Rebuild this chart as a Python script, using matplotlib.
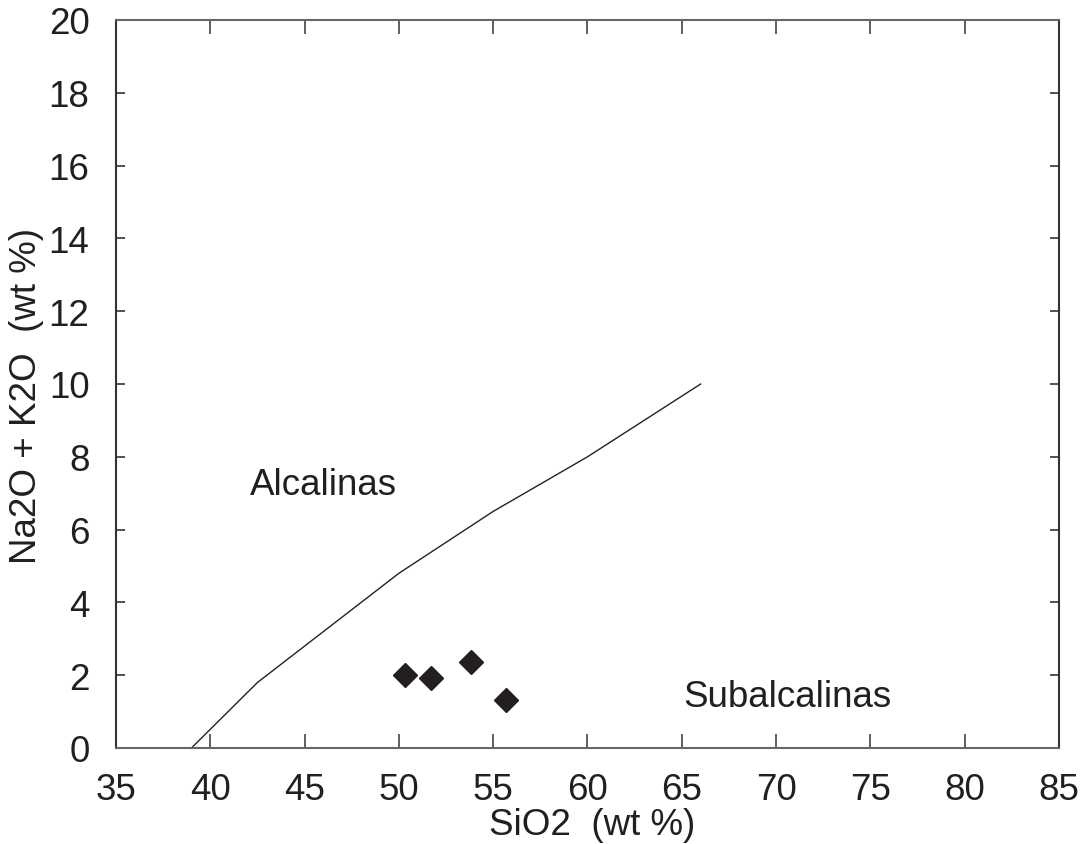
import matplotlib
matplotlib.use('Agg')
import matplotlib.pyplot as plt

plt.rcParams['font.family'] = ['Liberation Sans', 'DejaVu Sans']

# limite alcalino / subalcalino
linea_x = [39.0, 42.5, 50.0, 55.0, 60.0, 66.0]
linea_y = [0.0, 1.8, 4.8, 6.5, 8.0, 10.0]

# muestras
sio2 = [50.3, 51.7, 53.8, 55.7]
alcalis = [2.0, 1.93, 2.35, 1.32]

x_ticks = [35, 40, 45, 50, 55, 60, 65, 70, 75, 80, 85]
y_ticks = [0, 2, 4, 6, 8, 10, 12, 14, 16, 18, 20]

negro = '#231f20'
fs = 26.5

fig = plt.figure(figsize=(10.83, 8.45), dpi=100)
ax = fig.add_axes([116 / 1083, 96 / 845, 943 / 1083, 728 / 845])

ax.plot(linea_x, linea_y, '-', color='#222222', linewidth=1.0)
ax.plot(sio2, alcalis, linestyle='none', marker='D', markersize=12,
        color=negro, markeredgecolor=negro)

ax.text(42.1, 6.98, 'Alcalinas', fontsize=fs, color=negro)
ax.text(65.1, 1.16, 'Subalcalinas', fontsize=fs, color=negro)

ax.set_xlim(35, 85)
ax.set_ylim(0, 20)
ax.set_xticks(x_ticks)
ax.set_yticks(y_ticks)
ax.tick_params(axis='x', direction='in', length=10, width=1.2, top=True,
               labelsize=fs, pad=17, colors='#444444', labelcolor=negro)
ax.tick_params(axis='y', direction='in', length=6.5, width=1.2, right=True,
               labelsize=fs, pad=19, colors='#333333', labelcolor=negro)

for s in ax.spines.values():
    s.set_linewidth(1.5)
    s.set_color('#333333')
ax.spines['bottom'].set_color('#666666')
ax.spines['top'].set_color('#666666')

ax.set_xlabel('SiO2  (wt %)', fontsize=fs, color=negro)
ax.set_ylabel('Na2O + K2O  (wt %)', fontsize=fs, color=negro)
ax.xaxis.set_label_coords(0.505, -0.081)
ax.yaxis.set_label_coords(-0.076, 0.485)

fig.savefig('out.png', dpi=100)
